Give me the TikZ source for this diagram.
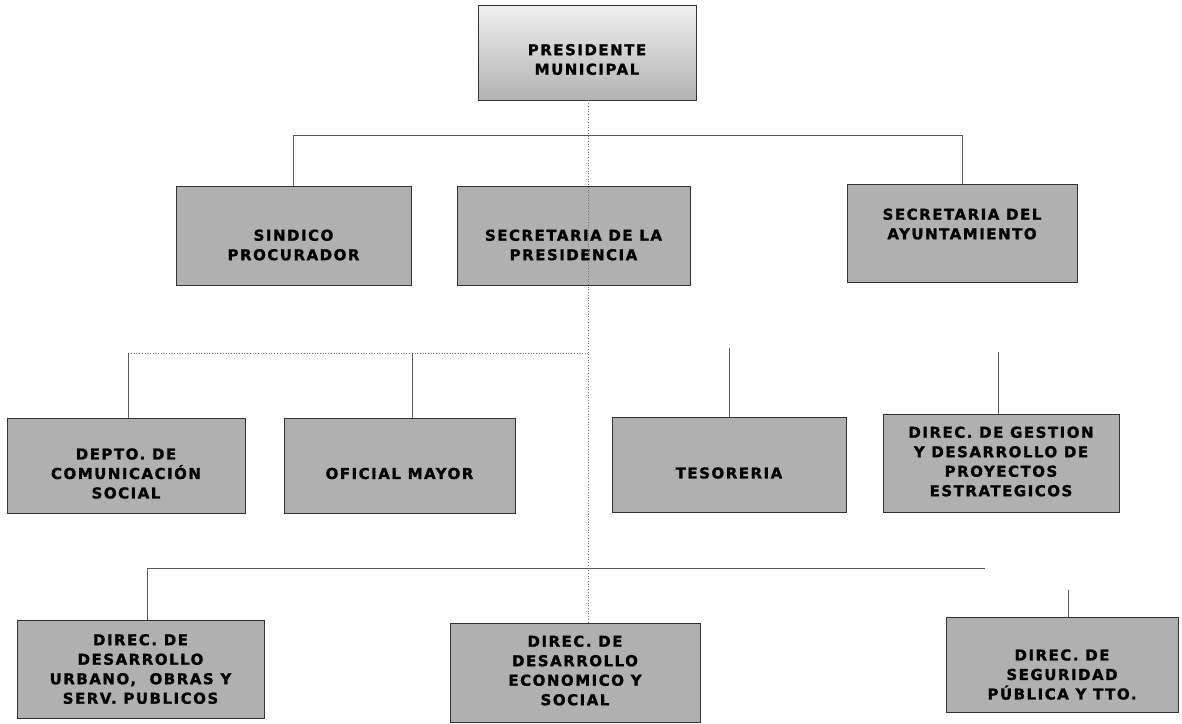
\documentclass[tikz,border=0pt]{standalone}
\usepackage{fontspec}
\newfontfamily\orgfont{DejaVu Sans Bold}[LetterSpace=10,FakeBold=1.2]
\usepackage{tikz}

\begin{document}
\begin{tikzpicture}[x=1pt,y=-1pt,
	unit/.style={draw=black!80, fill=black!31, line width=0.8pt, inner sep=0pt},
	txt/.style={align=center, inner sep=0pt, font=\orgfont\fontsize{15}{19.5}\selectfont},
	wire/.style={draw=black!65, line width=0.8pt},
	dotline/.style={draw=black!55, line width=0.7pt, dotted}]
	\useasboundingbox[fill=white] (0,0) rectangle (1182,723);

	% guide lines
	\coordinate (cx) at (588,0);
	\coordinate (l2) at (0,135);
	\coordinate (l3) at (0,353);
	\coordinate (l4) at (0,568);
	\coordinate (dpx) at (128,0);
	\coordinate (ofx) at (412,0);
	\coordinate (tsx) at (729,348);
	\coordinate (gsx) at (998,352);
	\coordinate (urx) at (147,0);
	\coordinate (l4end) at (985,568);
	\coordinate (sgx) at (1068,590);

	% boxes
	\node[unit, top color=black!6, bottom color=black!30, minimum width=218, minimum height=95] (pres) at (587,52.5) {};
	\node[unit, minimum width=235, minimum height=99] (sind) at (293.5,235.5) {};
	\node[unit, minimum width=233, minimum height=99] (spres) at (573.5,235.5) {};
	\node[unit, minimum width=230, minimum height=98] (ayun) at (962,233) {};
	\node[unit, minimum width=238, minimum height=95] (depto) at (126,465.5) {};
	\node[unit, minimum width=231, minimum height=95] (ofic) at (399.5,465.5) {};
	\node[unit, minimum width=234, minimum height=95] (teso) at (729,464.5) {};
	\node[unit, minimum width=236, minimum height=98] (gest) at (1001,463) {};
	\node[unit, minimum width=247, minimum height=98] (urb) at (140.5,669) {};
	\node[unit, minimum width=250, minimum height=99] (econ) at (575,672.5) {};
	\node[unit, minimum width=232, minimum height=95] (segu) at (1062,664.5) {};

	% texts
	\node[txt] (pres-t) at ([yshift=-7]pres.center) {PRESIDENTE\\MUNICIPAL};
	\node[txt] (sind-t) at ([yshift=-9.5]sind.center) {SINDICO\\PROCURADOR};
	\node[txt] (spres-t) at ([yshift=-9.5]spres.center) {SECRETARIA DE LA\\PRESIDENCIA};
	\node[txt] (ayun-t) at ([yshift=9]ayun.center) {SECRETARIA DEL\\AYUNTAMIENTO};
	\node[txt] (depto-t) at ([yshift=-8]depto.center) {DEPTO. DE\\COMUNICACIÓN\\SOCIAL};
	\node[txt] (ofic-t) at ([yshift=-8]ofic.center) {OFICIAL MAYOR};
	\node[txt] (teso-t) at ([yshift=-8.5]teso.center) {TESORERIA};
	\node[txt] (gest-t) at ([yshift=1.5]gest.center) {DIREC. DE GESTION\\Y DESARROLLO DE\\PROYECTOS\\ESTRATEGICOS};
	\node[txt] (urb-t) at (urb.center) {DIREC. DE\\DESARROLLO\\URBANO,\ \ OBRAS Y\\SERV. PUBLICOS};
	\node[txt] (econ-t) at ([yshift=2]econ.center) {DIREC. DE\\DESARROLLO\\ECONOMICO Y\\SOCIAL};
	\node[txt] (segu-t) at ([yshift=-10]segu.center) {DIREC. DE\\SEGURIDAD\\PÚBLICA Y TTO.};

	% connectors
	\draw[dotline] (pres.south -| cx) -- (econ.north -| cx);
	\draw[wire] (sind.north) -- (sind.north |- l2) -- (ayun.north |- l2) -- (ayun.north);
	\draw[dotline] (cx |- l3) -- (dpx |- l3);
	\draw[wire] (dpx |- l3) -- (dpx |- depto.north);
	\draw[wire] (ofx |- l3) -- (ofx |- ofic.north);
	\draw[wire] (tsx) -- (tsx |- teso.north);
	\draw[wire] (gsx) -- (gsx |- gest.north);
	\draw[wire] (urx |- urb.north) -- (urx |- l4) -- (l4end);
	\draw[wire] (sgx) -- (sgx |- segu.north);
\end{tikzpicture}
\end{document}
